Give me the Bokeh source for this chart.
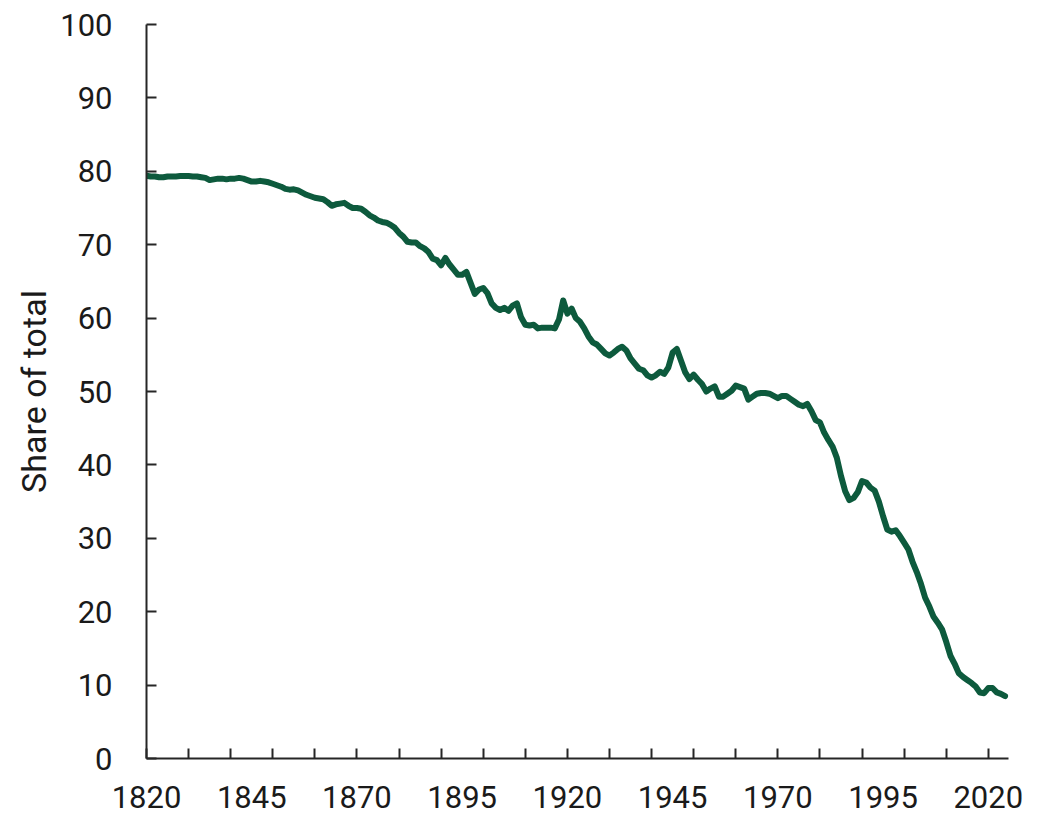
from bokeh.plotting import figure
from bokeh.models import Range1d, FixedTicker
from bokeh.embed import file_html
from bokeh.resources import INLINE

# ---- data ----
years = list(range(1820, 2025))
share = [
    79.4, 79.3, 79.3, 79.2, 79.2, 79.3, 79.3, 79.3, 79.35, 79.35,   # 1820s
    79.35, 79.3, 79.3, 79.2, 79.1, 78.8, 78.9, 79.0, 79.0, 78.9,    # 1830s
    79.0, 79.0, 79.1, 79.0, 78.8, 78.6, 78.6, 78.7, 78.6, 78.5,     # 1840s
    78.3, 78.1, 77.9, 77.6, 77.5, 77.55, 77.4, 77.1, 76.8, 76.6,    # 1850s
    76.4, 76.3, 76.2, 75.8, 75.3, 75.5, 75.6, 75.7, 75.3, 75.0,     # 1860s
    75.0, 74.9, 74.5, 74.0, 73.7, 73.3, 73.1, 73.0, 72.7, 72.3,     # 1870s
    71.6, 71.1, 70.4, 70.3, 70.3, 69.8, 69.5, 69.0, 68.1, 67.9,     # 1880s
    67.2, 68.2, 67.3, 66.6, 65.9, 65.9, 66.3, 64.8, 63.3, 63.9,     # 1890s
    64.1, 63.4, 62.0, 61.4, 61.1, 61.4, 61.0, 61.7, 62.0, 60.1,     # 1900s
    59.1, 59.0, 59.1, 58.6, 58.7, 58.7, 58.7, 58.6, 59.8, 62.4,     # 1910s
    60.6, 61.3, 60.0, 59.5, 58.6, 57.5, 56.7, 56.4, 55.8, 55.2,     # 1920s
    54.9, 55.3, 55.8, 56.1, 55.6, 54.5, 53.8, 53.1, 52.9, 52.2,     # 1930s
    51.9, 52.2, 52.7, 52.4, 53.3, 55.3, 55.8, 54.2, 52.6, 51.7,     # 1940s
    52.3, 51.6, 51.0, 50.0, 50.4, 50.7, 49.3, 49.3, 49.7, 50.1,     # 1950s
    50.8, 50.6, 50.4, 48.9, 49.3, 49.7, 49.8, 49.8, 49.7, 49.4,     # 1960s
    49.1, 49.4, 49.4, 49.0, 48.6, 48.2, 48.0, 48.3, 47.3, 46.1,     # 1970s
    45.8, 44.4, 43.4, 42.5, 41.0, 38.5, 36.4, 35.2, 35.5, 36.3,     # 1980s
    37.8, 37.6, 36.9, 36.5, 35.0, 33.0, 31.2, 30.9, 31.1, 30.3,     # 1990s
    29.4, 28.5, 26.8, 25.4, 23.8, 21.9, 20.7, 19.3, 18.5, 17.6,     # 2000s
    15.9, 14.0, 12.9, 11.6, 11.1, 10.7, 10.3, 9.8, 9.0, 8.9,        # 2010s
    9.6, 9.6, 9.0, 8.8, 8.5,                                        # 2020s
]
x_label_years = [1820, 1845, 1870, 1895, 1920, 1945, 1970, 1995, 2020]
x_tick_years = list(range(1820, 2021, 10))
y_ticks = list(range(0, 101, 10))
y_title = "Share of total"

FONT = "Roboto"
TXT = "#1a1a1a"
AX = "#262626"
GREEN = "#0d5a3d"

p = figure(width=1050, height=815, output_backend="svg", toolbar_location=None,
           x_range=Range1d(1820, 2024.8), y_range=Range1d(0, 100),
           min_border_left=146, min_border_right=42, min_border_top=24,
           min_border_bottom=57)
p.outline_line_color = None
p.grid.visible = False
p.background_fill_color = "white"
p.border_fill_color = "white"

p.line(years, share, line_width=6, color=GREEN, line_join="round", line_cap="round")

xa = p.xaxis[0]
xa.ticker = FixedTicker(ticks=x_label_years, minor_ticks=x_tick_years)
xa.major_tick_in = 0
xa.major_tick_out = 0
xa.minor_tick_in = 10
xa.minor_tick_out = 0
xa.minor_tick_line_color = AX
xa.minor_tick_line_width = 2
xa.axis_line_color = AX
xa.axis_line_width = 2
xa.major_label_text_font = FONT
xa.major_label_text_font_size = "31px"
xa.major_label_text_color = TXT
xa.major_label_standoff = 27

ya = p.yaxis[0]
ya.ticker = FixedTicker(ticks=y_ticks, minor_ticks=[])
ya.major_tick_in = 10
ya.major_tick_out = 0
ya.major_tick_line_color = AX
ya.major_tick_line_width = 2
ya.minor_tick_line_color = None
ya.axis_line_color = AX
ya.axis_line_width = 2
ya.major_label_text_font = FONT
ya.major_label_text_font_size = "31px"
ya.major_label_text_color = TXT
ya.major_label_standoff = 34
ya.axis_label = y_title
ya.axis_label_text_font = FONT
ya.axis_label_text_font_size = "34px"
ya.axis_label_text_font_style = "normal"
ya.axis_label_text_color = TXT
ya.axis_label_standoff = 3

open("out.html", "w").write(file_html(p, INLINE))
